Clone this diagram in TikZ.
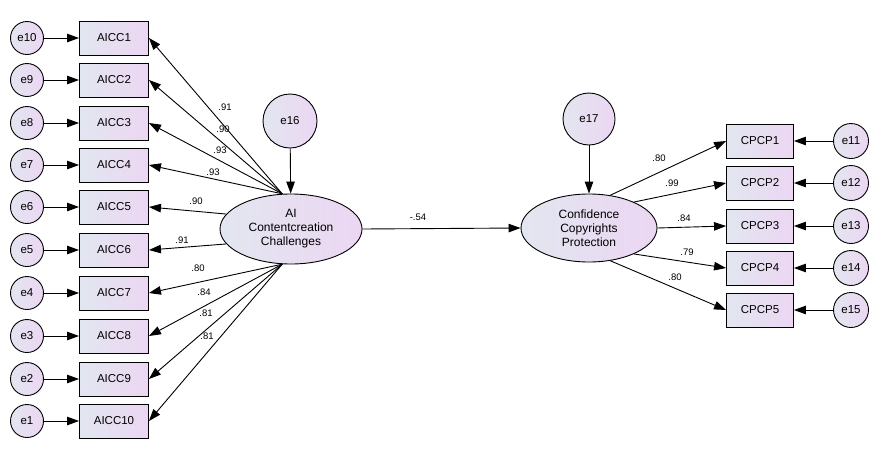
\documentclass[tikz,border=0pt]{standalone}
\usepackage{fontspec}
\setmainfont{Liberation Sans}
\usetikzlibrary{arrows.meta,shapes.geometric}
\definecolor{shadeL}{RGB}{226,230,240}
\definecolor{shadeR}{RGB}{236,214,242}
\begin{document}
\begin{tikzpicture}[x=1pt, y=-1pt,
  obs/.style={draw, line width=0.9pt, left color=shadeL, right color=shadeR, minimum width=69pt, minimum height=34pt, inner sep=0pt, font=\fontsize{11.5}{13}\selectfont},
  err/.style={draw, circle, line width=0.9pt, left color=shadeL, right color=shadeR, minimum size=33pt, inner sep=0pt, font=\fontsize{11.5}{13}\selectfont},
  lat/.style={draw, ellipse, line width=0.9pt, left color=shadeL, right color=shadeR, inner sep=0pt, align=center, font=\fontsize{12}{14}\selectfont},
  arr/.style={-{Triangle[length=12pt,width=8.5pt]}, line width=0.9pt},
  lbl/.style={inner sep=0pt, font=\fontsize{9.5}{11}\selectfont}]
\useasboundingbox (0,0) rectangle (886,453);

% latent variables
\node[lat, minimum width=142pt, minimum height=70pt] (ai) at (291,229) {AI\\Contentcreation\\Challenges};
\node[lat, minimum width=136pt, minimum height=68pt] (cp) at (589,228) {Confidence\\Copyrights\\Protection};
\node[err, minimum size=54pt] (e16) at (290,121) {e16};
\node[err, minimum size=52pt] (e17) at (589,119) {e17};

% AICC items
\node[obs] (aicc1) at (114,38) {AICC1};
\node[obs] (aicc2) at (114,80) {AICC2};
\node[obs] (aicc3) at (114,123) {AICC3};
\node[obs] (aicc4) at (114,165) {AICC4};
\node[obs] (aicc5) at (114,207) {AICC5};
\node[obs] (aicc6) at (114,250) {AICC6};
\node[obs] (aicc7) at (114,293) {AICC7};
\node[obs] (aicc8) at (114,336) {AICC8};
\node[obs] (aicc9) at (114,379) {AICC9};
\node[obs] (aicc10) at (114,421) {AICC10};

\node[err] (e10) at (27,38) {e10};
\node[err] (e9) at (27,80) {e9};
\node[err] (e8) at (27,123) {e8};
\node[err] (e7) at (27,165) {e7};
\node[err] (e6) at (27,207) {e6};
\node[err] (e5) at (27,250) {e5};
\node[err] (e4) at (27,293) {e4};
\node[err] (e3) at (27,336) {e3};
\node[err] (e2) at (27,379) {e2};
\node[err] (e1) at (27,421) {e1};

% CPCP items
\node[obs, minimum width=67pt] (cpcp1) at (760,141) {CPCP1};
\node[obs, minimum width=67pt] (cpcp2) at (760,183) {CPCP2};
\node[obs, minimum width=67pt] (cpcp3) at (760,226) {CPCP3};
\node[obs, minimum width=67pt] (cpcp4) at (760,268) {CPCP4};
\node[obs, minimum width=67pt] (cpcp5) at (760,310) {CPCP5};

\node[err, minimum size=35pt] (e11) at (851,141) {e11};
\node[err, minimum size=35pt] (e12) at (851,183) {e12};
\node[err, minimum size=35pt] (e13) at (851,226) {e13};
\node[err, minimum size=35pt] (e14) at (851,268) {e14};
\node[err, minimum size=35pt] (e15) at (851,310) {e15};

% paths
\draw[arr] (e16) -- (ai);
\draw[arr] (e17) -- (cp);
\draw[arr] (ai.east) -- (cp.west);

\draw[arr] (ai.104) -- (aicc1.east);
\draw[arr] (ai.104) -- (aicc2.east);
\draw[arr] (ai.104) -- (aicc3.east);
\draw[arr] (ai.104) -- (aicc4.east);
\draw[arr] (ai.167) -- (aicc5.east);
\draw[arr] (ai.193) -- (aicc6.east);
\draw[arr] (ai.256) -- (aicc7.east);
\draw[arr] (ai.256) -- (aicc8.east);
\draw[arr] (ai.256) -- (aicc9.east);
\draw[arr] (ai.256) -- (aicc10.east);

\draw[arr] (e10) -- (aicc1);
\draw[arr] (e9) -- (aicc2);
\draw[arr] (e8) -- (aicc3);
\draw[arr] (e7) -- (aicc4);
\draw[arr] (e6) -- (aicc5);
\draw[arr] (e5) -- (aicc6);
\draw[arr] (e4) -- (aicc7);
\draw[arr] (e3) -- (aicc8);
\draw[arr] (e2) -- (aicc9);
\draw[arr] (e1) -- (aicc10);

\draw[arr] (cp.57) -- (cpcp1.west);
\draw[arr] (cp.30) -- (cpcp2.west);
\draw[arr] (cp.east) -- (cpcp3.west);
\draw[arr] (cp.330) -- (cpcp4.west);
\draw[arr] (cp.303) -- (cpcp5.west);

\draw[arr] (e11) -- (cpcp1);
\draw[arr] (e12) -- (cpcp2);
\draw[arr] (e13) -- (cpcp3);
\draw[arr] (e14) -- (cpcp4);
\draw[arr] (e15) -- (cpcp5);

% estimates
\node[lbl] (w1) at (225,107) {.91};
\node[lbl] (w2) at (223,129) {.90};
\node[lbl] (w3) at (220,150) {.93};
\node[lbl] (w4) at (213,172) {.93};
\node[lbl] (w5) at (196,201) {.90};
\node[lbl] (w6) at (182,240) {.91};
\node[lbl] (w7) at (198,268) {.80};
\node[lbl] (w8) at (204,292) {.84};
\node[lbl] (w9) at (206,313) {.81};
\node[lbl] (w10) at (207,336) {.81};
\node[lbl] (b1) at (418,217) {-.54};
\node[lbl] (v1) at (659,158) {.80};
\node[lbl] (v2) at (672,183) {.99};
\node[lbl] (v3) at (684,218) {.84};
\node[lbl] (v4) at (687,252) {.79};
\node[lbl] (v5) at (675,277) {.80};
\end{tikzpicture}
\end{document}
